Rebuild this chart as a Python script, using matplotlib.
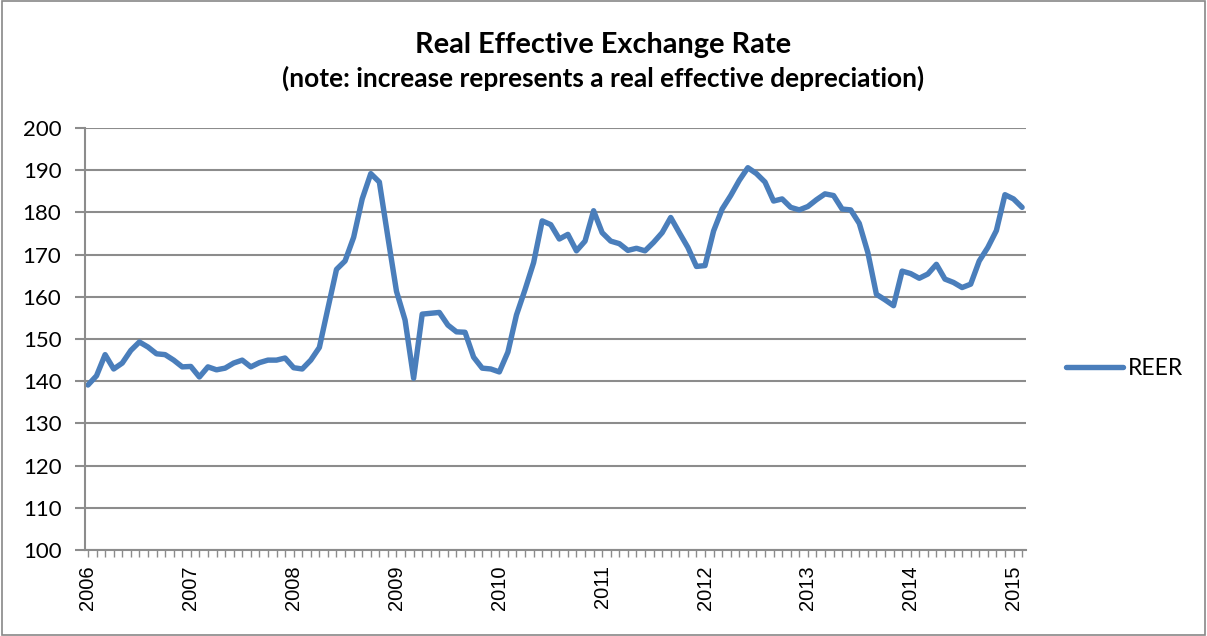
import matplotlib
matplotlib.use('Agg')
import matplotlib.pyplot as plt
from matplotlib.patches import Rectangle

# Monthly REER, Jan 2006 - Feb 2015
reer = [139.1, 141.3, 146.3, 142.9, 144.3, 147.3, 149.3, 148.1, 146.5, 146.3, 145.0, 143.4,
        143.5, 141.0, 143.4, 142.7, 143.1, 144.3, 145.0, 143.4, 144.4, 145.0, 145.0, 145.5,
        143.2, 142.9, 145.0, 148.0, 157.3, 166.5, 168.5, 174.1, 183.2, 189.2, 187.2, 174.1,
        161.3, 154.5, 140.7, 155.9, 156.1, 156.3, 153.3, 151.7, 151.6, 145.7, 143.1, 142.9,
        142.2, 146.9, 155.7, 161.7, 168.1, 178.0, 177.1, 173.7, 174.8, 170.9, 173.2, 180.4,
        175.2, 173.2, 172.6, 171.0, 171.5, 170.9, 172.9, 175.2, 178.8, 175.2, 171.7, 167.2,
        167.4, 175.6, 180.8, 184.0, 187.6, 190.6, 189.2, 187.2, 182.7, 183.2, 181.2, 180.6,
        181.4, 183.0, 184.4, 184.0, 180.8, 180.6, 177.4, 170.5, 160.6, 159.3, 157.9, 166.1,
        165.5, 164.4, 165.4, 167.7, 164.2, 163.4, 162.2, 163.0, 168.5, 171.7, 175.7, 184.2,
        183.2, 181.2]
years = ['2006', '2007', '2008', '2009', '2010', '2011', '2012', '2013', '2014', '2015']
months = list(range(len(reer)))

grid_col = '#8c8c8c'

fig = plt.figure(figsize=(12.07, 6.36), dpi=100)
ax = fig.add_axes([0.0704, 0.1352, 0.7796, 0.6635])

ax.plot(months, reer, color='#4a7ebb', linewidth=3.9, solid_joinstyle='round',
        solid_capstyle='round', label='REER')

ax.set_ylim(100, 200)
ax.set_yticks(range(100, 201, 10))
ax.set_xlim(-0.35, 109.45)
ax.set_xticks(range(0, 109, 12))
ax.set_xticklabels(years, rotation=90, fontsize=14.5, family='Liberation Sans')
ax.set_xticks(range(0, 110), minor=True)
for lab in ax.get_yticklabels():
    lab.set_fontsize(16)
    lab.set_family('Lato')

ax.grid(axis='y', color=grid_col, linewidth=1.5)
ax.set_axisbelow(True)
for s in ['top', 'right']:
    ax.spines[s].set_visible(False)
for s in ['left', 'bottom']:
    ax.spines[s].set_color(grid_col)
    ax.spines[s].set_linewidth(1.5)
ax.tick_params(axis='y', length=7, width=1.5, color=grid_col, pad=10)
ax.tick_params(axis='x', which='both', length=5, width=1, color=grid_col, pad=6)

ax.legend(loc='center left', bbox_to_anchor=(1.033, 0.431), frameon=False,
          prop={'family': 'Lato', 'size': 16.5}, handlelength=2.5, handletextpad=0.2,
          borderaxespad=0)

fig.text(0.5, 0.93, 'Real Effective Exchange Rate', ha='center', va='center',
         fontsize=20.8, fontweight='bold', family='Lato')
fig.text(0.5, 0.877, '(note: increase represents a real effective depreciation)',
         ha='center', va='center', fontsize=18.9, fontweight='bold', family='Lato')

fig.patches.append(Rectangle((0.002, 0.002), 0.996, 0.996, transform=fig.transFigure,
                             fill=False, edgecolor='#888888', linewidth=1.2))

fig.savefig('out.png', dpi=100)
